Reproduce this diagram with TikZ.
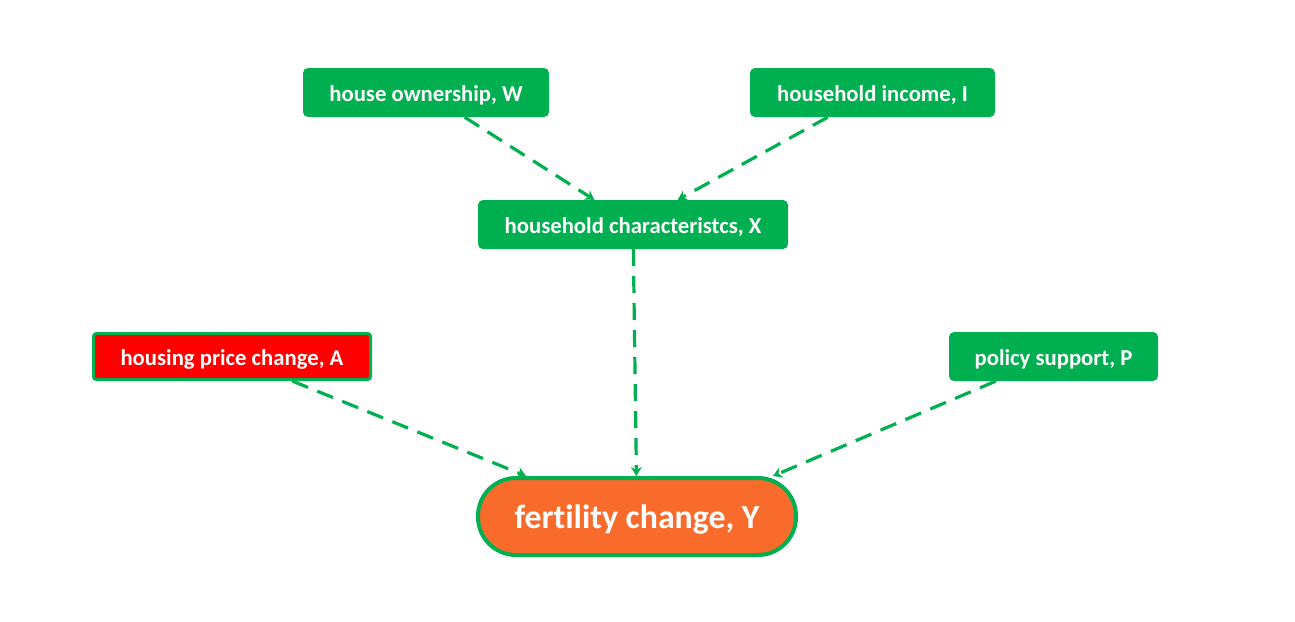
\documentclass[tikz,border=0pt]{standalone}
\usepackage{fontspec}
\setmainfont{Carlito}[Ligatures=NoCommon]
\usepackage{xcolor}
\usetikzlibrary{arrows.meta}

\definecolor{boxgreen}{RGB}{0,176,80}
\definecolor{boxred}{RGB}{255,0,0}
\definecolor{boxorange}{RGB}{249,107,43}

\tikzset{
  var/.style={rectangle, rounded corners=5pt, fill=boxgreen, text=white,
    inner sep=0pt, minimum height=49pt, text depth=0pt, text height=18pt,
    font=\fontsize{22.7}{27}\selectfont\bfseries},
  link/.style={draw=boxgreen, line width=3.2pt, dash pattern=on 17pt off 10pt,
    -{Stealth[length=9pt,width=11pt,inset=3pt]}},
}

\begin{document}
\begin{tikzpicture}[x=1pt, y=-1pt]
    \useasboundingbox (0,0) rectangle (1295,621);
%    \draw [help lines, opacity=0.5] (0,0) grid[step=50] (1295,621);
    %% top row
    \node (w) [var, minimum width=246pt] at (426,92.5) {house ownership, W};
    \node (inc) [var, minimum width=245pt] at (872.5,92.5) {household income, I};

    \node (x) [var, minimum width=310pt] at (633,224.5) {household characteristcs, X};

    %% side causes
    \node (a) [var, fill=boxred, draw=boxgreen, line width=3pt, rounded corners=3pt,
      minimum width=277pt, minimum height=46pt] at (232,356.5) {housing price change, A};
    \node (p) [var, minimum width=209pt] at (1053.5,356.5) {policy support, P};

    %% the outcome
    \node (y) [rectangle, rounded corners=38pt, fill=boxorange, draw=boxgreen,
      line width=4pt, text=white, inner sep=0pt, minimum width=318pt,
      minimum height=77pt, text depth=0pt, text height=24pt,
      font=\fontsize{33.8}{40}\selectfont\bfseries]
      at (637,516.5) {fertility change, Y};

    \draw [link] (w) to (x);
    \draw [link] (inc) to (x);
    \draw [link] (x) to (y);
    \draw [link] (a) to ([xshift=-111pt]y.north);
    \draw [link] (p) to ([xshift=136pt]y.north);

  \end{tikzpicture}
\end{document}
